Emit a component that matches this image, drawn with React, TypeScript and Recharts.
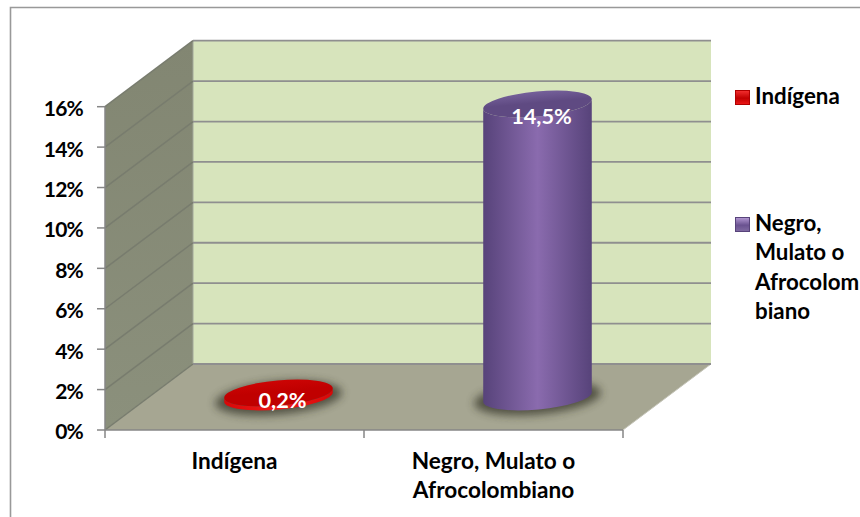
import React from "react";
import {
  BarChart,
  Bar,
  Cell,
  XAxis,
  YAxis,
  CartesianGrid,
  LabelList,
  Customized,
  usePlotArea,
} from "recharts";

// ─── Data ─────────────────────────────────────────────────────────────────────

const CATEGORIES = ["Indígena", "Negro, Mulato o Afrocolombiano"];
const VALUES = [0.2, 14.5];
const Y_TICKS = [0, 2, 4, 6, 8, 10, 12, 14, 16];
const X_LABEL_LINES = [["Indígena"], ["Negro, Mulato o", "Afrocolombiano"]];
const LEGEND_LINES = [["Indígena"], ["Negro,", "Mulato o", "Afrocolom", "biano"]];

const data = CATEGORIES.map((name, i) => ({ name, value: VALUES[i] }));

// ─── Look ─────────────────────────────────────────────────────────────────────

const DEPTH_X = 88;
const DEPTH_Y = 66;
const FONT = "Lato, Carlito, sans-serif";
const AXIS_GRAY = "#868686";
const TILT = 5.2;

const PALETTES = [
  { id: "red", edge: "#d80808", mid: "#ee1a1a", capTop: "#cc0404", cap: "#c00000", swatch: ["#f43030", "#c00000", "#ee1818"] },
  { id: "purple", edge: "#57437a", mid: "#8a6bae", capTop: "#75609a", cap: "#5f4a82", swatch: ["#b49ad4", "#6a5290", "#806ba2"] },
];

// ─── Walls, floor and frame ───────────────────────────────────────────────────

function Backdrop() {
  const plot = usePlotArea();
  if (!plot) return null;
  const left = plot.x;
  const right = plot.x + plot.width;
  const top = plot.y;
  const bottom = plot.y + plot.height;
  const pts = (list: number[][]) => list.map((p) => p.join(",")).join(" ");

  return (
    <g>
      <defs>
        <filter id="soft" x="-30%" y="-80%" width="160%" height="260%">
          <feGaussianBlur stdDeviation="4" />
        </filter>
        <linearGradient id="sideWall" x1="0" y1="0" x2="0" y2="1">
          <stop offset="0%" stopColor="#828672" />
          <stop offset="100%" stopColor="#8b907c" />
        </linearGradient>
        {PALETTES.map((p) => (
          <linearGradient key={p.id} id={`body-${p.id}`} x1="0" y1="0" x2="1" y2="0">
            <stop offset="0%" stopColor={p.edge} />
            <stop offset="50%" stopColor={p.mid} />
            <stop offset="100%" stopColor={p.edge} />
          </linearGradient>
        ))}
        {PALETTES.map((p) => (
          <linearGradient key={p.id} id={`cap-${p.id}`} x1="0" y1="0" x2="0" y2="1">
            <stop offset="0%" stopColor={p.capTop} />
            <stop offset="45%" stopColor={p.cap} />
            <stop offset="100%" stopColor={p.cap} />
          </linearGradient>
        ))}
      </defs>
      <path d="M10.5 517V7.5H860" fill="none" stroke="#999999" strokeWidth={1.6} />
      <polygon
        points={pts([
          [left + DEPTH_X, top - DEPTH_Y],
          [right + DEPTH_X, top - DEPTH_Y],
          [right + DEPTH_X, bottom - DEPTH_Y],
          [left + DEPTH_X, bottom - DEPTH_Y],
        ])}
        fill="#d7e4bc"
      />
      <polygon
        points={pts([
          [left, top],
          [left + DEPTH_X, top - DEPTH_Y],
          [left + DEPTH_X, bottom - DEPTH_Y],
          [left, bottom],
        ])}
        fill="url(#sideWall)"
      />
      <polygon
        points={pts([
          [left, bottom],
          [right, bottom],
          [right + DEPTH_X, bottom - DEPTH_Y],
          [left + DEPTH_X, bottom - DEPTH_Y],
        ])}
        fill="#a6a692"
      />
      <line
        x1={left + DEPTH_X}
        y1={top - DEPTH_Y}
        x2={left + DEPTH_X}
        y2={bottom - DEPTH_Y}
        stroke="#a3a89a"
        strokeWidth={1}
      />
      <line x1={right} y1={bottom} x2={right + DEPTH_X} y2={bottom - DEPTH_Y} stroke="#c4c4b8" strokeWidth={1} />
    </g>
  );
}

// ─── Grid line bent along the side wall and the back wall ─────────────────────

function WallLine(props: any) {
  const { x1, y1, x2, index } = props;
  return (
    <g>
      {/* the grid is the lowest layer, so the walls go in with its first line */}
      {index === 0 && <Backdrop />}
      <line x1={x1} y1={y1} x2={x1 + DEPTH_X} y2={y1 - DEPTH_Y} stroke="#787c6e" strokeWidth={1.5} />
      <line
        x1={x1 + DEPTH_X}
        y1={y1 - DEPTH_Y}
        x2={x2 + DEPTH_X}
        y2={y1 - DEPTH_Y}
        stroke="#8f8f8f"
        strokeWidth={1.8}
      />
    </g>
  );
}

// ─── Cylinder shape ───────────────────────────────────────────────────────────

function Cylinder(props: any) {
  const { x, y, width, height, index } = props;
  const pal = PALETTES[index];
  const rx = width / 2;
  const ry = 12.5;
  const cx = x + rx + DEPTH_X / 2;
  const topY = y - DEPTH_Y / 2;
  const baseY = y + height - DEPTH_Y / 2;
  const rad = (TILT * Math.PI) / 180;
  const dx = rx * Math.cos(rad);
  const dy = rx * Math.sin(rad);

  const body = [
    `M${cx - dx} ${topY + dy}`,
    `L${cx - dx} ${baseY + dy}`,
    `A${rx} ${ry} ${-TILT} 0 0 ${cx + dx} ${baseY - dy}`,
    `L${cx + dx} ${topY - dy}`,
    `A${rx} ${ry} ${-TILT} 0 1 ${cx - dx} ${topY + dy}`,
    "Z",
  ].join(" ");

  return (
    <g>
      <ellipse
        cx={cx}
        cy={baseY + 1}
        rx={rx + 9}
        ry={ry + 4}
        fill="#2e2e22"
        opacity={0.7}
        filter="url(#soft)"
        transform={`rotate(${-TILT} ${cx} ${baseY + 1})`}
      />
      <path d={body} fill={`url(#body-${pal.id})`} />
      <ellipse
        cx={cx}
        cy={topY}
        rx={rx}
        ry={ry}
        fill={`url(#cap-${pal.id})`}
        transform={`rotate(${-TILT} ${cx} ${topY})`}
      />
    </g>
  );
}

// ─── Value label on the top of the cylinder ───────────────────────────────────

function ValueLabel(props: any) {
  const { x, y, width, height, value } = props;
  const lift = height > 50 ? 21 : 26;
  return (
    <text
      x={x + width / 2 + DEPTH_X / 2 + 4}
      y={y - lift}
      fill="#ffffff"
      fontFamily={FONT}
      fontWeight={700}
      fontSize={21.7}
      textAnchor="middle"
      dominantBaseline="central"
    >
      {String(value).replace(".", ",")}%
    </text>
  );
}

// ─── X tick: label centred, tick marks on the category edges ──────────────────

function CategoryTick(props: any) {
  const { x, y, index, width } = props;
  const band = width / CATEGORIES.length;
  const lines = X_LABEL_LINES[index];
  const edges = index === CATEGORIES.length - 1 ? [x - band / 2, x + band / 2] : [x - band / 2];
  return (
    <g>
      {edges.map((ex) => (
        <line key={ex} x1={ex} y1={y - 8} x2={ex} y2={y} stroke={AXIS_GRAY} strokeWidth={1.5} />
      ))}
      {lines.map((line, i) => (
        <text
          key={line}
          x={x}
          y={y + 31 + i * 29}
          textAnchor="middle"
          fontFamily={FONT}
          fontWeight={700}
          fontSize={22.6}
          fill="#000000"
        >
          {line}
        </text>
      ))}
    </g>
  );
}

// ─── Legend ───────────────────────────────────────────────────────────────────

function LegendBlock() {
  const rows = [90, 217];
  return (
    <g>
      <defs>
        {PALETTES.map((p) => (
          <linearGradient key={p.id} id={`swatch-${p.id}`} x1="0" y1="0" x2="0" y2="1">
            <stop offset="0%" stopColor={p.swatch[0]} />
            <stop offset="55%" stopColor={p.swatch[1]} />
            <stop offset="100%" stopColor={p.swatch[2]} />
          </linearGradient>
        ))}
      </defs>
      {LEGEND_LINES.map((lines, i) => (
        <g key={lines[0]}>
          <rect
            x={735.5}
            y={rows[i] + 0.5}
            width={14}
            height={14}
            fill={`url(#swatch-${PALETTES[i].id})`}
            stroke={i === 0 ? "#b00000" : "#57437a"}
          />
          {lines.map((line, j) => (
            <text
              key={line}
              x={755}
              y={rows[i] + 14 + j * 29.3}
              fontFamily={FONT}
              fontWeight={700}
              fontSize={22.3}
              fill="#000000"
            >
              {line}
            </text>
          ))}
        </g>
      ))}
    </g>
  );
}

// ─── Main component ───────────────────────────────────────────────────────────

export default function App() {
  return (
    <div style={{ position: "absolute", left: 0, top: 0, width: 860, height: 517, background: "#ffffff" }}>
      <BarChart
        width={860}
        height={517}
        data={data}
        margin={{ top: 106.7, right: 237, bottom: 0, left: 0 }}
        barSize={109}
      >
        <CartesianGrid
          vertical={false}
          horizontal={(p: any) => <WallLine key={p.y1} {...p} />}
        />
        <XAxis
          dataKey="name"
          height={87}
          interval={0}
          tick={<CategoryTick />}
          tickLine={false}
          axisLine={{ stroke: AXIS_GRAY, strokeWidth: 1.5 }}
        />
        <YAxis
          width={105}
          domain={[0, 16]}
          ticks={Y_TICKS}
          interval={0}
          tickFormatter={(v: number) => `${v}%`}
          tick={{ fontFamily: FONT, fontWeight: 700, fontSize: 21, fill: "#000000", letterSpacing: -0.8, dy: 2 }}
          tickSize={8}
          tickMargin={14}
          tickLine={{ stroke: AXIS_GRAY, strokeWidth: 1.5 }}
          axisLine={{ stroke: AXIS_GRAY, strokeWidth: 1.5 }}
        />
        <Bar dataKey="value" shape={<Cylinder />} isAnimationActive={false}>
          {data.map((d) => (
            <Cell key={d.name} />
          ))}
          <LabelList dataKey="value" content={<ValueLabel />} />
        </Bar>
        <Customized component={<LegendBlock />} />
      </BarChart>
    </div>
  );
}
